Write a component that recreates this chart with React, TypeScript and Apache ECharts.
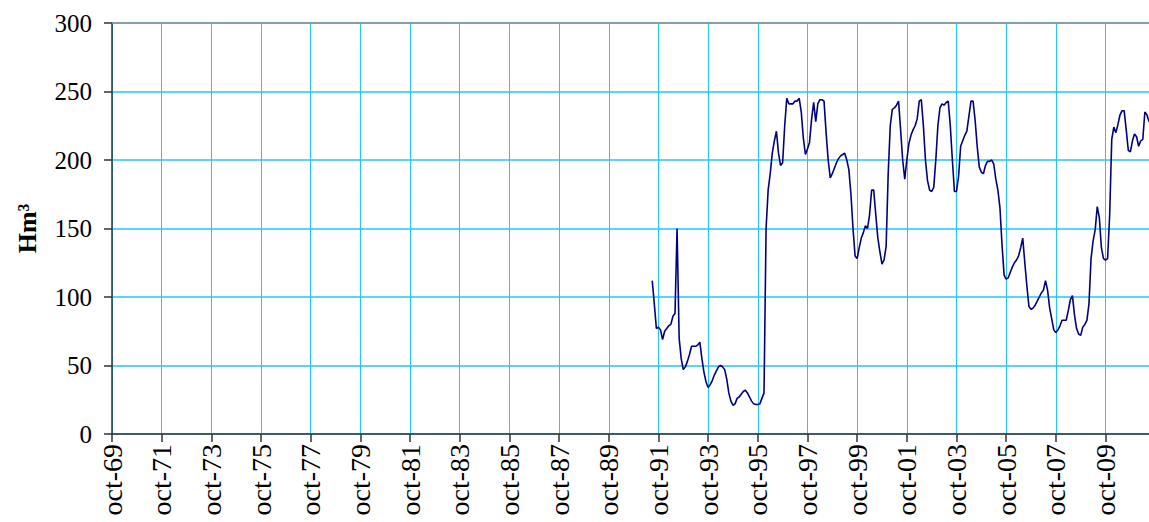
import React, { useEffect, useRef } from "react";
import * as echarts from "echarts";

// Month names (Spanish) used for category labels
const monthNames = ["ene", "feb", "mar", "abr", "may", "jun", "jul", "ago", "sep", "oct", "nov", "dic"];
// Axis runs monthly from oct-1969, 502 months
const axisStartYear = 1969;
const axisStartMonth = 9; // oct
const axisMonthCount = 502;
// First data month: jul-1991
const dataStartYear = 1991;
const dataStartMonth = 6; // jul

// Stored volume (Hm³), monthly from jul-91
const volumes = [
  112, 95, 77, 78, 76, 69, 75, 77, 79, 80, 86, 88,
  150, 70, 55, 47, 49, 53, 58, 64, 64, 64, 65, 67,
  55, 45, 38, 34, 36, 39, 43, 46, 49, 50, 49, 47,
  40, 30, 24, 21, 22, 26, 27, 29, 31, 32, 30, 27,
  24, 22, 21.5, 21.5, 22, 26, 30, 150, 178, 190, 205, 214,
  221, 205, 196, 198, 225, 245, 241, 241, 241, 243, 243, 245,
  235, 216, 204, 208, 213, 230, 242, 228, 241, 244, 244, 243,
  220, 200, 187, 190, 194, 198, 201, 203, 204, 205, 200, 193,
  175, 150, 130, 128, 136, 143, 147, 152, 150, 160, 178, 178,
  160, 143, 133, 124, 127, 137, 190, 225, 237, 238, 240, 243,
  222, 200, 186, 200, 212, 218, 222, 225, 230, 243, 244, 225,
  200, 185, 178, 177, 180, 200, 225, 238, 241, 240, 242, 243,
  225, 200, 177, 177, 188, 210, 214, 218, 221, 232, 243, 243,
  229, 210, 195, 191, 190, 196, 199, 199, 200, 197, 186, 178,
  165, 138, 116, 113, 114, 118, 122, 125, 127, 130, 136, 143,
  125, 108, 93, 91, 92, 94, 97, 100, 103, 105, 112, 105,
  92, 84, 76, 74, 76, 79, 83, 83, 83, 90, 98, 101,
  87, 77, 73, 72, 78, 80, 83, 95, 128, 141, 149, 166,
  158, 136, 128, 127, 128, 160, 215, 224, 220, 226, 233, 236,
  236, 222, 207, 206, 214, 219, 217, 210, 214, 215, 235, 233,
  228,
];

const yMin = 0;
const yMax = 300;
const yStep = 50;

const categories: string[] = [];
for (let i = 0; i < axisMonthCount; i++) {
  const m = (axisStartMonth + i) % 12;
  const y = axisStartYear + Math.floor((axisStartMonth + i) / 12);
  categories.push(monthNames[m] + "-" + String(y % 100).padStart(2, "0"));
}
const dataOffset = (dataStartYear - axisStartYear) * 12 + (dataStartMonth - axisStartMonth);
const seriesData = categories.map((_, i) => {
  const k = i - dataOffset;
  return k >= 0 && k < volumes.length ? volumes[k] : null;
});

const FONT = "'Liberation Serif', 'Times New Roman', Times, serif";
const CYAN = "#1ec8ff";

export default function App() {
  const ref = useRef<HTMLDivElement>(null);
  useEffect(() => {
    if (!ref.current) return;
    const chart = echarts.init(ref.current, null, { renderer: "svg" });
    chart.setOption({
      animation: false,
      backgroundColor: "#ffffff",
      grid: { left: 112, top: 23, right: 0, bottom: 88, containLabel: false },
      xAxis: [
        {
          type: "category",
          data: categories,
          boundaryGap: false,
          axisLine: { show: true, lineStyle: { color: "#333333", width: 1.5 } },
          axisTick: { show: true, interval: 23, length: 8, lineStyle: { color: "#333333", width: 1.5 } },
          axisLabel: {
            interval: 23,
            rotate: 90,
            margin: 10,
            color: "#000000",
            fontFamily: FONT,
            fontSize: 28,
          },
          splitLine: { show: true, interval: 23, lineStyle: { color: CYAN, width: 1 } },
        },
        {
          type: "category",
          data: categories,
          boundaryGap: false,
          position: "top",
          axisLine: { show: true, lineStyle: { color: "#909090", width: 1.5 } },
          axisTick: { show: false },
          axisLabel: { show: false },
          splitLine: { show: false },
        },
      ],
      yAxis: {
        type: "value",
        min: yMin,
        max: yMax,
        interval: yStep,
        name: "Hm³",
        nameLocation: "middle",
        nameRotate: 90,
        nameGap: 72,
        nameTextStyle: { fontFamily: FONT, fontSize: 26, fontWeight: "bold", color: "#000000" },
        axisLine: { show: true, lineStyle: { color: "#333333", width: 1.5 } },
        axisTick: { show: true, length: 8, lineStyle: { color: "#333333", width: 1.5 } },
        axisLabel: { margin: 20, color: "#000000", fontFamily: FONT, fontSize: 25 },
        splitLine: { show: true, lineStyle: { color: CYAN, width: 1.6 } },
      },
      series: [
        {
          type: "line",
          xAxisIndex: 0,
          data: seriesData,
          showSymbol: false,
          symbol: "none",
          connectNulls: false,
          lineStyle: { color: "#000080", width: 1.6 },
        },
      ],
    });
    return () => chart.dispose();
  }, []);
  return (
    <div
      ref={ref}
      style={{ position: "fixed", left: 0, top: 0, width: 1149, height: 522, background: "#fff" }}
    />
  );
}
